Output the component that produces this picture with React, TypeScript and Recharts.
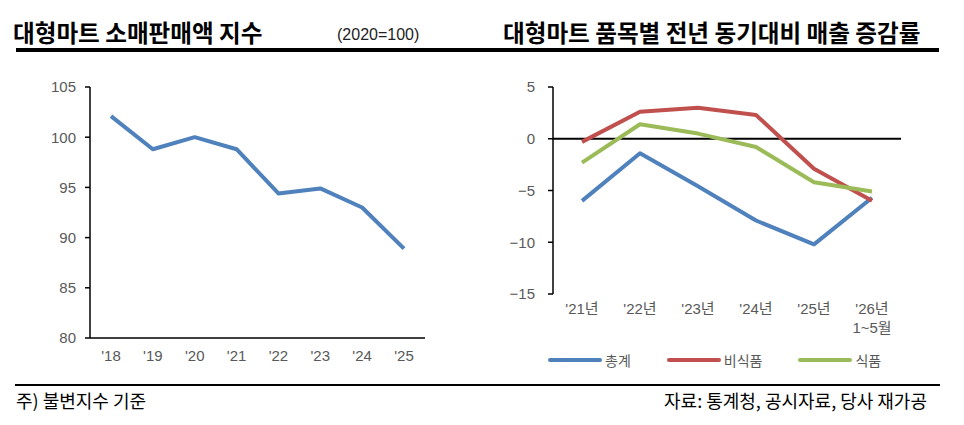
import React from "react";
import { LineChart, Line, XAxis, YAxis, ReferenceLine } from "recharts";

// 대형마트 소매판매액 지수 (2020=100)
const indexYears = ["'18", "'19", "'20", "'21", "'22", "'23", "'24", "'25"];
const indexValues = [102.1, 98.8, 100.0, 98.8, 94.4, 94.9, 93.0, 88.9];
const indexTicks = [80, 85, 90, 95, 100, 105];

// 품목별 전년 동기대비 매출 증감률
const growthPeriods = ["'21년", "'22년", "'23년", "'24년", "'25년", "'26년\n1~5월"];
const totalGrowth = [-6.0, -1.4, -4.6, -7.9, -10.2, -5.7];
const nonFoodGrowth = [-0.3, 2.6, 3.0, 2.3, -2.9, -6.0];
const foodGrowth = [-2.3, 1.4, 0.5, -0.8, -4.2, -5.1];
const growthTicks = [-15, -10, -5, 0, 5];

const seriesNames = ["총계", "비식품", "식품"];
const seriesColors = ["#4F81BD", "#C0504D", "#9BBB59"];

const indexData = indexYears.map((year, i) => ({ year, value: indexValues[i] }));
const growthData = growthPeriods.map((period, i) => ({
  period,
  total: totalGrowth[i],
  nonFood: nonFoodGrowth[i],
  food: foodGrowth[i],
}));

const TICK_FONT = "'Liberation Sans', 'Noto Sans CJK KR', sans-serif";
const KR_FONT = "'Noto Sans CJK KR', sans-serif";
const TICK_COLOR = "#595959";

const fmtMinus = (v: number) => (v < 0 ? `\u2212${Math.abs(v)}` : `${v}`);

const PeriodTick = (props: any) => {
  const { x, y, payload } = props;
  const lines = String(payload.value).split("\n");
  return (
    <text x={x} y={y} textAnchor="middle" fill={TICK_COLOR} fontSize={15} fontFamily={TICK_FONT}>
      {lines.map((line, i) => (
        <tspan key={i} x={x} dy={i === 0 ? "0.71em" : 19}>
          {line}
        </tspan>
      ))}
    </text>
  );
};

const App = () => {
  return (
    <div
      style={{
        position: "absolute",
        left: 0,
        top: 0,
        width: 964,
        height: 425,
        background: "#fff",
        overflow: "hidden",
      }}
    >
      {/* titles */}
      <div
        style={{
          position: "absolute",
          left: 13,
          top: 17,
          fontFamily: KR_FONT,
          fontWeight: 700,
          fontSize: 23.6,
          lineHeight: "30px",
          color: "#000",
          whiteSpace: "nowrap",
        }}
      >
        대형마트 소매판매액 지수
      </div>
      <div
        style={{
          position: "absolute",
          left: 337,
          top: 25,
          fontFamily: TICK_FONT,
          fontSize: 16,
          lineHeight: "20px",
          color: "#222",
          whiteSpace: "nowrap",
        }}
      >
        (2020=100)
      </div>
      <div
        style={{
          position: "absolute",
          left: 503,
          top: 17,
          fontFamily: KR_FONT,
          fontWeight: 700,
          fontSize: 23.6,
          lineHeight: "30px",
          color: "#000",
          whiteSpace: "nowrap",
        }}
      >
        대형마트 품목별 전년 동기대비 매출 증감률
      </div>
      <div style={{ position: "absolute", left: 16, top: 48, width: 923, height: 4, background: "#000" }} />

      {/* left chart */}
      <div style={{ position: "absolute", left: 0, top: 70 }}>
        <LineChart
          width={440}
          height={300}
          data={indexData}
          margin={{ top: 17, right: 15, bottom: 0, left: 0 }}
        >
          <XAxis
            dataKey="year"
            height={32}
            padding={{ left: 21, right: 21 }}
            axisLine={{ stroke: "#000", strokeWidth: 1.5 }}
            tickLine={false}
            tickSize={0}
            tickMargin={12}
            interval={0}
            tick={{ fill: TICK_COLOR, fontSize: 15, fontFamily: TICK_FONT }}
          />
          <YAxis
            width={90}
            domain={[80, 105]}
            ticks={indexTicks}
            interval={0}
            axisLine={{ stroke: "#000", strokeWidth: 1.5 }}
            tickLine={{ stroke: "#000", strokeWidth: 1.5 }}
            tickSize={5}
            tickMargin={9}
            tick={{ fill: TICK_COLOR, fontSize: 15, fontFamily: TICK_FONT }}
          />
          <Line
            dataKey="value"
            stroke={seriesColors[0]}
            strokeWidth={4}
            dot={false}
            activeDot={false}
            isAnimationActive={false}
            strokeLinejoin="round"
          />
        </LineChart>
      </div>

      {/* right chart */}
      <div style={{ position: "absolute", left: 480, top: 70 }}>
        <LineChart
          width={460}
          height={280}
          data={growthData}
          margin={{ top: 17, right: 39, bottom: 0, left: 0 }}
        >
          <XAxis
            dataKey="period"
            height={56}
            padding={{ left: 29, right: 29 }}
            axisLine={false}
            tickLine={false}
            tickSize={0}
            tickMargin={9}
            interval={0}
            tick={<PeriodTick />}
          />
          <YAxis
            width={73}
            domain={[-15, 5]}
            ticks={growthTicks}
            interval={0}
            tickFormatter={fmtMinus}
            axisLine={{ stroke: "#000", strokeWidth: 1.5 }}
            tickLine={{ stroke: "#000", strokeWidth: 1.5 }}
            tickSize={5}
            tickMargin={13}
            tick={{ fill: TICK_COLOR, fontSize: 15, fontFamily: TICK_FONT }}
          />
          <ReferenceLine y={0} stroke="#000" strokeWidth={2} />
          {["total", "nonFood", "food"].map((key, i) => (
            <Line
              key={key}
              dataKey={key}
              name={seriesNames[i]}
              stroke={seriesColors[i]}
              strokeWidth={4}
              dot={false}
              activeDot={false}
              isAnimationActive={false}
              strokeLinejoin="round"
            />
          ))}
        </LineChart>
      </div>

      {/* legend */}
      <div
        style={{
          position: "absolute",
          left: 547,
          top: 350,
          display: "flex",
          alignItems: "center",
          fontFamily: KR_FONT,
          fontSize: 14,
          color: TICK_COLOR,
          lineHeight: "20px",
        }}
      >
        {seriesNames.map((name, i) => (
          <div key={name} style={{ display: "flex", alignItems: "center", marginRight: [35, 35, 0][i] }}>
            <svg width={56} height={8}>
              <line x1={3} y1={4} x2={53} y2={4} stroke={seriesColors[i]} strokeWidth={4} strokeLinecap="round" />
            </svg>
            <span style={{ marginLeft: 2 }}>{name}</span>
          </div>
        ))}
      </div>

      {/* footer */}
      <div style={{ position: "absolute", left: 15, top: 384, width: 925, height: 2, background: "#000" }} />
      <div
        style={{
          position: "absolute",
          left: 16,
          top: 388,
          fontFamily: KR_FONT,
          fontSize: 18,
          lineHeight: "24px",
          color: "#000",
          whiteSpace: "nowrap",
        }}
      >
        주) 불변지수 기준
      </div>
      <div
        style={{
          position: "absolute",
          right: 964 - 927,
          top: 388,
          fontFamily: KR_FONT,
          fontSize: 18,
          lineHeight: "24px",
          color: "#000",
          whiteSpace: "nowrap",
        }}
      >
        자료: 통계청, 공시자료, 당사 재가공
      </div>
    </div>
  );
};

export default App;
